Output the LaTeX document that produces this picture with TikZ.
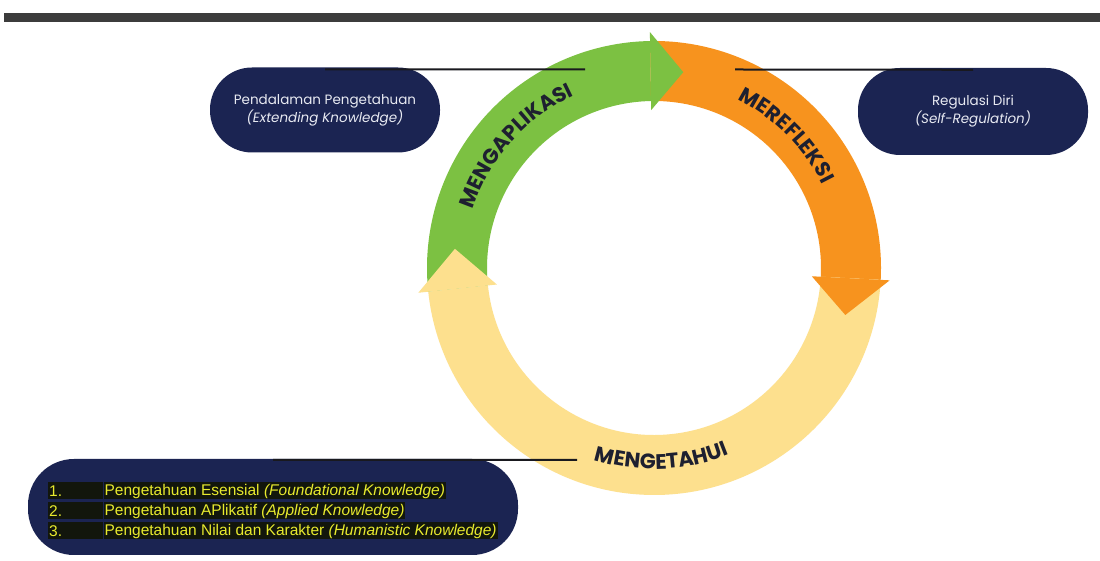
\documentclass[tikz,border=0pt]{standalone}
\usepackage{fontspec}
\setmainfont{Poppins}
\newfontfamily\listfont{Liberation Sans}
\usetikzlibrary{calc,decorations.text}
\definecolor{navy}{RGB}{27,36,82}
\definecolor{bargray}{RGB}{60,60,60}
\definecolor{ringgreen}{RGB}{124,193,66}
\definecolor{ringorange}{RGB}{247,147,30}
\definecolor{ringyellow}{RGB}{253,224,142}
\definecolor{arctext}{RGB}{30,32,48}
\definecolor{listyellow}{RGB}{232,234,46}
\definecolor{hl}{RGB}{18,22,12}
\definecolor{boxtext}{RGB}{232,234,242}
\definecolor{conn}{RGB}{25,25,30}
\newcommand{\arcfont}{\fontsize{21}{21}\selectfont\bfseries}
\tikzset{
  infobox/.style={fill=navy, rounded corners=42pt, text=boxtext, align=center,
    font=\fontsize{13.5}{18}\selectfont, inner sep=0pt},
  listbox/.style={fill=navy, rounded corners=46pt, inner sep=0pt},
  connline/.style={draw=conn, line width=2pt},
  hlnum/.style={fill=hl, text=listyellow, anchor=west, inner sep=1pt, font=\listfont\fontsize{15.5}{17}\selectfont,
    minimum width=55pt, minimum height=17pt, align=left, text width=53pt},
  hltext/.style={fill=hl, text=listyellow, anchor=west, inner sep=1pt, font=\listfont\fontsize{15.5}{17}\selectfont,
    minimum height=17pt},
  arclabel/.style={decorate, decoration={text along path, text align=center, text color=arctext}}
}
\begin{document}
\begin{tikzpicture}[x=1pt,y=1pt]
\fill[white] (0,0) rectangle (1100,561);
\useasboundingbox (0,0) rectangle (1100,561);
% top bar
\fill[bargray] (4,539) rectangle (1100,548);
\coordinate (C) at (654,293);
% ring bodies
\fill[ringgreen] ($(C)+(186:227)$) arc[start angle=186,end angle=91,radius=227]
  -- ($(C)+(91:167)$) arc[start angle=91,end angle=186,radius=167] -- cycle;
\fill[ringorange] ($(C)+(91:227)$) arc[start angle=91,end angle=-3,radius=227]
  -- ($(C)+(-3:167)$) arc[start angle=-3,end angle=91,radius=167] -- cycle;
\fill[ringyellow] ($(C)+(-3:227)$) arc[start angle=-3,end angle=-174,radius=227]
  -- ($(C)+(-174:167)$) arc[start angle=-174,end angle=-3,radius=167] -- cycle;
% arrow heads
\fill[ringgreen] ($(C)+(91:236)$) -- ($(C)+(81.5:198)$) -- ($(C)+(91:158)$) -- cycle;
\fill[ringorange] ($(C)+(-3:236)$) -- ($(C)+(-13.8:197)$) -- ($(C)+(-3:158)$) -- cycle;
\fill[ringyellow] ($(C)+(-174:237)$) -- ($(C)+(-185.5:200)$) -- ($(C)+(-174:158)$) -- cycle;
% arc labels
\path[arclabel, decoration={text={|\arcfont|MENGAPLIKASI}}]
  ($(C)+(180:190)$) arc[start angle=180,end angle=97,radius=190];
\path[arclabel, decoration={text={|\arcfont|MEREFLEKSI}}]
  ($(C)+(86:188)$) arc[start angle=86,end angle=4,radius=188];
\path[arclabel, decoration={text={|\arcfont|MENGETAHUI}}]
  ($(C)+(-130:201)$) arc[start angle=-130,end angle=-45.4,radius=201];
% boxes
\node[infobox, minimum width=230pt, minimum height=85pt] (b1) at (325,451)
  {Pendalaman Pengetahuan\\\itshape(Extending Knowledge)};
\node[infobox, minimum width=230pt, minimum height=87pt] (b2) at (973,449.5)
  {Regulasi Diri\\\itshape(Self-Regulation)};
\node[listbox, minimum width=490pt, minimum height=96pt] (b3) at (273,54) {};
% list
\node[hlnum] (n1) at (48,70) {1.};
\node[hltext] (t1) at (n1.east) {Pengetahuan Esensial \textit{(Foundational Knowledge)}};
\node[hlnum] (n2) at (48,50) {2.};
\node[hltext] (t2) at (n2.east) {Pengetahuan APlikatif \textit{(Applied Knowledge)}};
\node[hlnum] (n3) at (48,30) {3.};
\node[hltext] (t3) at (n3.east) {Pengetahuan Nilai dan Karakter \textit{(Humanistic Knowledge)}};
% connectors
\coordinate (c1) at (585,491.5);
\coordinate (c2) at (735,491.5);
\coordinate (c3) at (577,101);
\draw[connline] ([yshift=-2pt]b1.north) -- (c1);
\draw[connline] (c2) -- ([yshift=-2pt]b2.north);
\draw[connline] ([yshift=-1pt]b3.north) -- (c3);
\end{tikzpicture}
\end{document}
